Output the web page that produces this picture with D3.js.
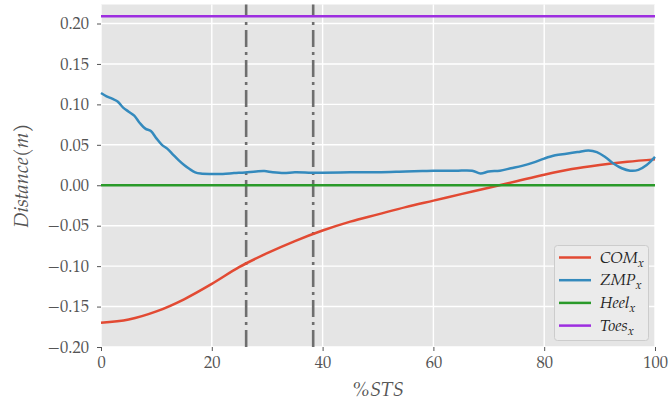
<!DOCTYPE html>
<html>
<head>
<meta charset="utf-8">
<script src="https://cdn.jsdelivr.net/npm/d3@7"></script>
<style>
  body { margin: 0; background: #fff; }
  svg text { font-family: "TeX Gyre Pagella", "Palatino Linotype", Palatino, "Liberation Serif", serif; }
</style>
</head>
<body>
<svg id="chart" width="670" height="410"></svg>
<script>
// centre of mass, x position over the sit-to-stand cycle
var comPct = [0, 5, 10, 15, 20, 25, 30, 35, 40, 45, 50, 55, 60, 65, 70, 75, 80, 85, 90, 95, 100];
var comVals = [-0.170, -0.166, -0.156, -0.141, -0.122, -0.101, -0.084, -0.069, -0.056, -0.045,
  -0.036, -0.027, -0.019, -0.011, -0.003, 0.005, 0.013, 0.020, 0.025, 0.029, 0.032];

// zero moment point
var zmpPct = [0, 1, 2, 3, 4, 5, 6, 7, 8, 9, 10, 11, 12, 13, 14, 15, 16, 17, 18, 20, 22, 24, 26, 28,
  29.5, 31, 33, 35, 38, 40, 45, 50, 55, 58, 60, 64, 67, 68.5, 70, 72, 74, 76, 78, 80, 82, 84, 86,
  88, 89.5, 91, 92.5, 94, 95.5, 97, 98.5, 100];
var zmpVals = [0.114, 0.110, 0.107, 0.1035, 0.096, 0.091, 0.086, 0.077, 0.070, 0.067, 0.058, 0.050,
  0.045, 0.038, 0.031, 0.025, 0.020, 0.016, 0.0145, 0.014, 0.014, 0.015, 0.0158, 0.017, 0.0175,
  0.016, 0.015, 0.016, 0.0155, 0.0155, 0.016, 0.016, 0.017, 0.0175, 0.018, 0.018, 0.018, 0.0145,
  0.017, 0.018, 0.021, 0.024, 0.028, 0.033, 0.037, 0.039, 0.041, 0.043, 0.041, 0.035, 0.027,
  0.021, 0.018, 0.019, 0.025, 0.035];

var heelX = 0.0;
var toesX = 0.209;
var phaseLines = [26.2, 38.3];

var xTicks = [0, 20, 40, 60, 80, 100];
var yTicks = [-0.20, -0.15, -0.10, -0.05, 0.00, 0.05, 0.10, 0.15, 0.20];

var legendItems = [
  {name: 'COM', color: '#E24A33'},
  {name: 'ZMP', color: '#348ABD'},
  {name: 'Heel', color: '#2a9a2a'},
  {name: 'Toes', color: '#9d2ee0'}
];

(function () {
  var svg = d3.select('#chart');
  var left = 101, right = 655, top = 4.5, bottom = 347;

  var x = d3.scaleLinear().domain([0, 100]).range([left, right]);
  var y = d3.scaleLinear().domain([-0.2, 0.2235]).range([bottom, top]);

  // background
  svg.append('rect')
      .attr('x', left).attr('y', top)
      .attr('width', right - left).attr('height', bottom - top)
      .attr('fill', '#E5E5E5');

  // grid
  var grid = svg.append('g');
  xTicks.forEach(function (t) {
    grid.append('line')
        .attr('x1', x(t)).attr('x2', x(t))
        .attr('y1', top).attr('y2', bottom)
        .attr('stroke', '#fff').attr('stroke-width', 1.4);
  });
  yTicks.forEach(function (t) {
    grid.append('line')
        .attr('x1', left).attr('x2', right)
        .attr('y1', y(t)).attr('y2', y(t))
        .attr('stroke', '#fff').attr('stroke-width', 1.4);
  });

  // axes
  var fmt = function (d) { return d3.format('.2f')(d).replace('-', '\u2212'); };
  var yAxis = svg.append('g')
      .attr('transform', 'translate(' + left + ',0)')
      .call(d3.axisLeft(y).tickValues(yTicks).tickFormat(fmt).tickSize(4).tickPadding(8));
  var xAxis = svg.append('g')
      .attr('transform', 'translate(0,' + bottom + ')')
      .call(d3.axisBottom(x).tickValues(xTicks).tickSize(4).tickPadding(5));
  [xAxis, yAxis].forEach(function (a) {
    a.select('.domain').remove();
    a.selectAll('.tick line').attr('stroke', '#555').attr('stroke-width', 1);
    a.selectAll('.tick text').attr('fill', '#555').style('font-size', '16.5px');
  });

  // phase markers
  phaseLines.forEach(function (p) {
    svg.append('line')
        .attr('x1', x(p)).attr('x2', x(p))
        .attr('y1', bottom).attr('y2', top)
        .attr('stroke', '#6e6e6e').attr('stroke-width', 2.6)
        .attr('stroke-dasharray', '17,5,3,5');
  });

  var line = d3.line()
      .x(function (d) { return x(d[0]); })
      .y(function (d) { return y(d[1]); });

  svg.append('path')
      .datum(d3.zip(comPct, comVals))
      .attr('d', line.curve(d3.curveMonotoneX))
      .attr('fill', 'none').attr('stroke', legendItems[0].color).attr('stroke-width', 2.5);

  svg.append('path')
      .datum(d3.zip(zmpPct, zmpVals))
      .attr('d', line.curve(d3.curveCatmullRom))
      .attr('fill', 'none').attr('stroke', legendItems[1].color).attr('stroke-width', 2.5);

  svg.append('line')
      .attr('x1', left).attr('x2', right)
      .attr('y1', y(heelX)).attr('y2', y(heelX))
      .attr('stroke', legendItems[2].color).attr('stroke-width', 2.5);

  svg.append('line')
      .attr('x1', left).attr('x2', right)
      .attr('y1', y(toesX)).attr('y2', y(toesX))
      .attr('stroke', legendItems[3].color).attr('stroke-width', 2.5);

  // axis labels
  svg.append('text')
      .attr('x', (left + right) / 2).attr('y', 396)
      .attr('text-anchor', 'middle')
      .attr('fill', '#555').style('font-size', '20px').style('font-style', 'italic')
      .text('%STS');

  svg.append('text')
      .attr('transform', 'translate(28,' + ((top + bottom) / 2) + ') rotate(-90)')
      .attr('text-anchor', 'middle')
      .attr('fill', '#555').style('font-size', '20px').style('font-style', 'italic')
      .text('Distance(m)');

  // legend
  var lg = svg.append('g');
  lg.append('rect')
      .attr('x', 554.5).attr('y', 245.5).attr('width', 94).attr('height', 95)
      .attr('rx', 3)
      .attr('fill', '#ebebeb').attr('stroke', '#cccccc').attr('stroke-width', 1);
  legendItems.forEach(function (item, i) {
    var cy = 257.5 + i * 22.7;
    lg.append('line')
        .attr('x1', 559).attr('x2', 591)
        .attr('y1', cy).attr('y2', cy)
        .attr('stroke', item.color).attr('stroke-width', 2.5);
    var t = lg.append('text')
        .attr('x', 600).attr('y', cy + 5)
        .attr('fill', '#222').style('font-size', '16px').style('font-style', 'italic');
    t.append('tspan').text(item.name);
    t.append('tspan').attr('dy', 4).style('font-size', '12px').text('x');
  });
}());
</script>
</body>
</html>
